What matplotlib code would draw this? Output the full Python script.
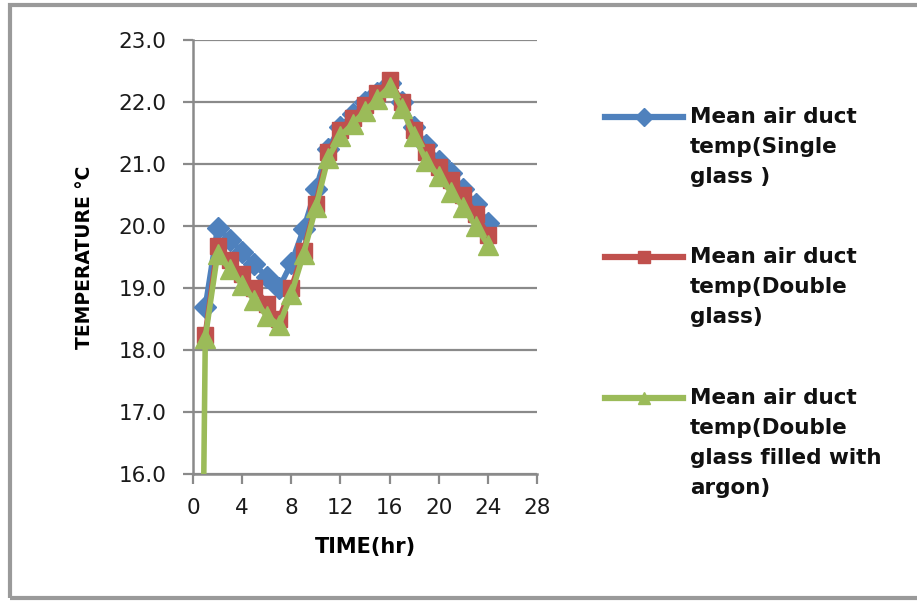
import matplotlib
matplotlib.use("Agg")
import matplotlib.pyplot as plt
from matplotlib.lines import Line2D
from matplotlib.patches import Rectangle
from matplotlib.ticker import FormatStrFormatter

# hourly mean air duct temperatures (degC)
hours = list(range(1, 25))
single_glass = [18.7, 19.97, 19.78, 19.58, 19.38, 19.18, 19.0, 19.4, 19.95, 20.6,
                21.25, 21.6, 21.8, 22.0, 22.15, 22.3, 22.0, 21.6, 21.3, 21.05,
                20.85, 20.6, 20.35, 20.05]
double_glass = [18.25, 19.68, 19.45, 19.22, 19.0, 18.75, 18.5, 19.0, 19.6, 20.35,
                21.2, 21.55, 21.75, 21.95, 22.15, 22.35, 22.0, 21.55, 21.2, 20.95,
                20.75, 20.5, 20.2, 19.85]
# argon series also has a reading at hour 0
argon_hours = [0] + hours
argon_glass = [0.0, 18.2, 19.55, 19.3, 19.05, 18.8, 18.55, 18.4, 18.9, 19.55, 20.3,
               21.1, 21.45, 21.65, 21.85, 22.05, 22.25, 21.9, 21.45, 21.05, 20.8,
               20.55, 20.3, 20.0, 19.7]

labels = ["Mean air duct\ntemp(Single\nglass )",
          "Mean air duct\ntemp(Double\nglass)",
          "Mean air duct\ntemp(Double\nglass filled with\nargon)"]
colors = ["#4F81BD", "#C0504D", "#9BBB59"]
markers = ["D", "s", "^"]
msizes = [11, 12, 15]

W, H = 917, 601
fig = plt.figure(figsize=(W / 100, H / 100), dpi=100)
ax = fig.add_axes([193 / W, 1 - 474 / H, 344 / W, 434 / H])

series = [(hours, single_glass), (hours, double_glass), (argon_hours, argon_glass)]
for (x, y), c, m, ms in zip(series, colors, markers, msizes):
    ax.plot(x, y, color=c, lw=4, marker=m, ms=ms, mec=c, mfc=c, zorder=3)

grid_c = "#8a8a8a"
ax.set_xlim(0, 28)
ax.set_ylim(16, 23)
ax.set_xticks(range(0, 29, 4))
ax.set_yticks(range(16, 24))
ax.yaxis.set_major_formatter(FormatStrFormatter("%.1f"))
ax.grid(axis="y", color=grid_c, lw=1.6, zorder=0)
ax.set_axisbelow(True)
for s in ("top", "right"):
    ax.spines[s].set_visible(False)
for s in ("left", "bottom"):
    ax.spines[s].set_color(grid_c)
    ax.spines[s].set_linewidth(1.8)
ax.tick_params(axis="both", colors=grid_c, width=1.6, length=7,
               labelcolor="#1a1a1a", labelsize=15.5)
ax.tick_params(axis="y", pad=12)
ax.tick_params(axis="x", pad=10)
for t in ax.get_xticklabels() + ax.get_yticklabels():
    t.set_family("DejaVu Sans")

ax.set_xlabel("TIME(hr)", fontsize=15, fontweight="bold", family="DejaVu Sans", labelpad=14)
ax.set_ylabel("TEMPERATURE \u00b0C", fontsize=13.5, fontweight="bold", family="DejaVu Sans",
              labelpad=18)

# legend drawn by hand so the key sits on the first text line
key_y = [117, 257, 398]
for lab, c, m, y in zip(labels, colors, markers, key_y):
    fy = 1 - y / H
    fig.add_artist(Line2D([605 / W, 683 / W], [fy, fy], transform=fig.transFigure,
                          color=c, lw=4.5))
    fig.add_artist(Line2D([644 / W], [fy], transform=fig.transFigure, color=c,
                          marker=m, ms=9, mec=c, mfc=c))
    fig.text(690 / W, 1 - (y - 10) / H, lab, ha="left", va="top", fontsize=15.5,
             family="DejaVu Sans", fontweight="bold", linespacing=1.62, color="#111111")

# chart-area border
fig.add_artist(Rectangle((10 / W, 3 / H), 1.2, 1 - 8 / H, transform=fig.transFigure,
                         fill=False, ec="#9a9a9a", lw=3))

fig.savefig("out.png", dpi=100)
